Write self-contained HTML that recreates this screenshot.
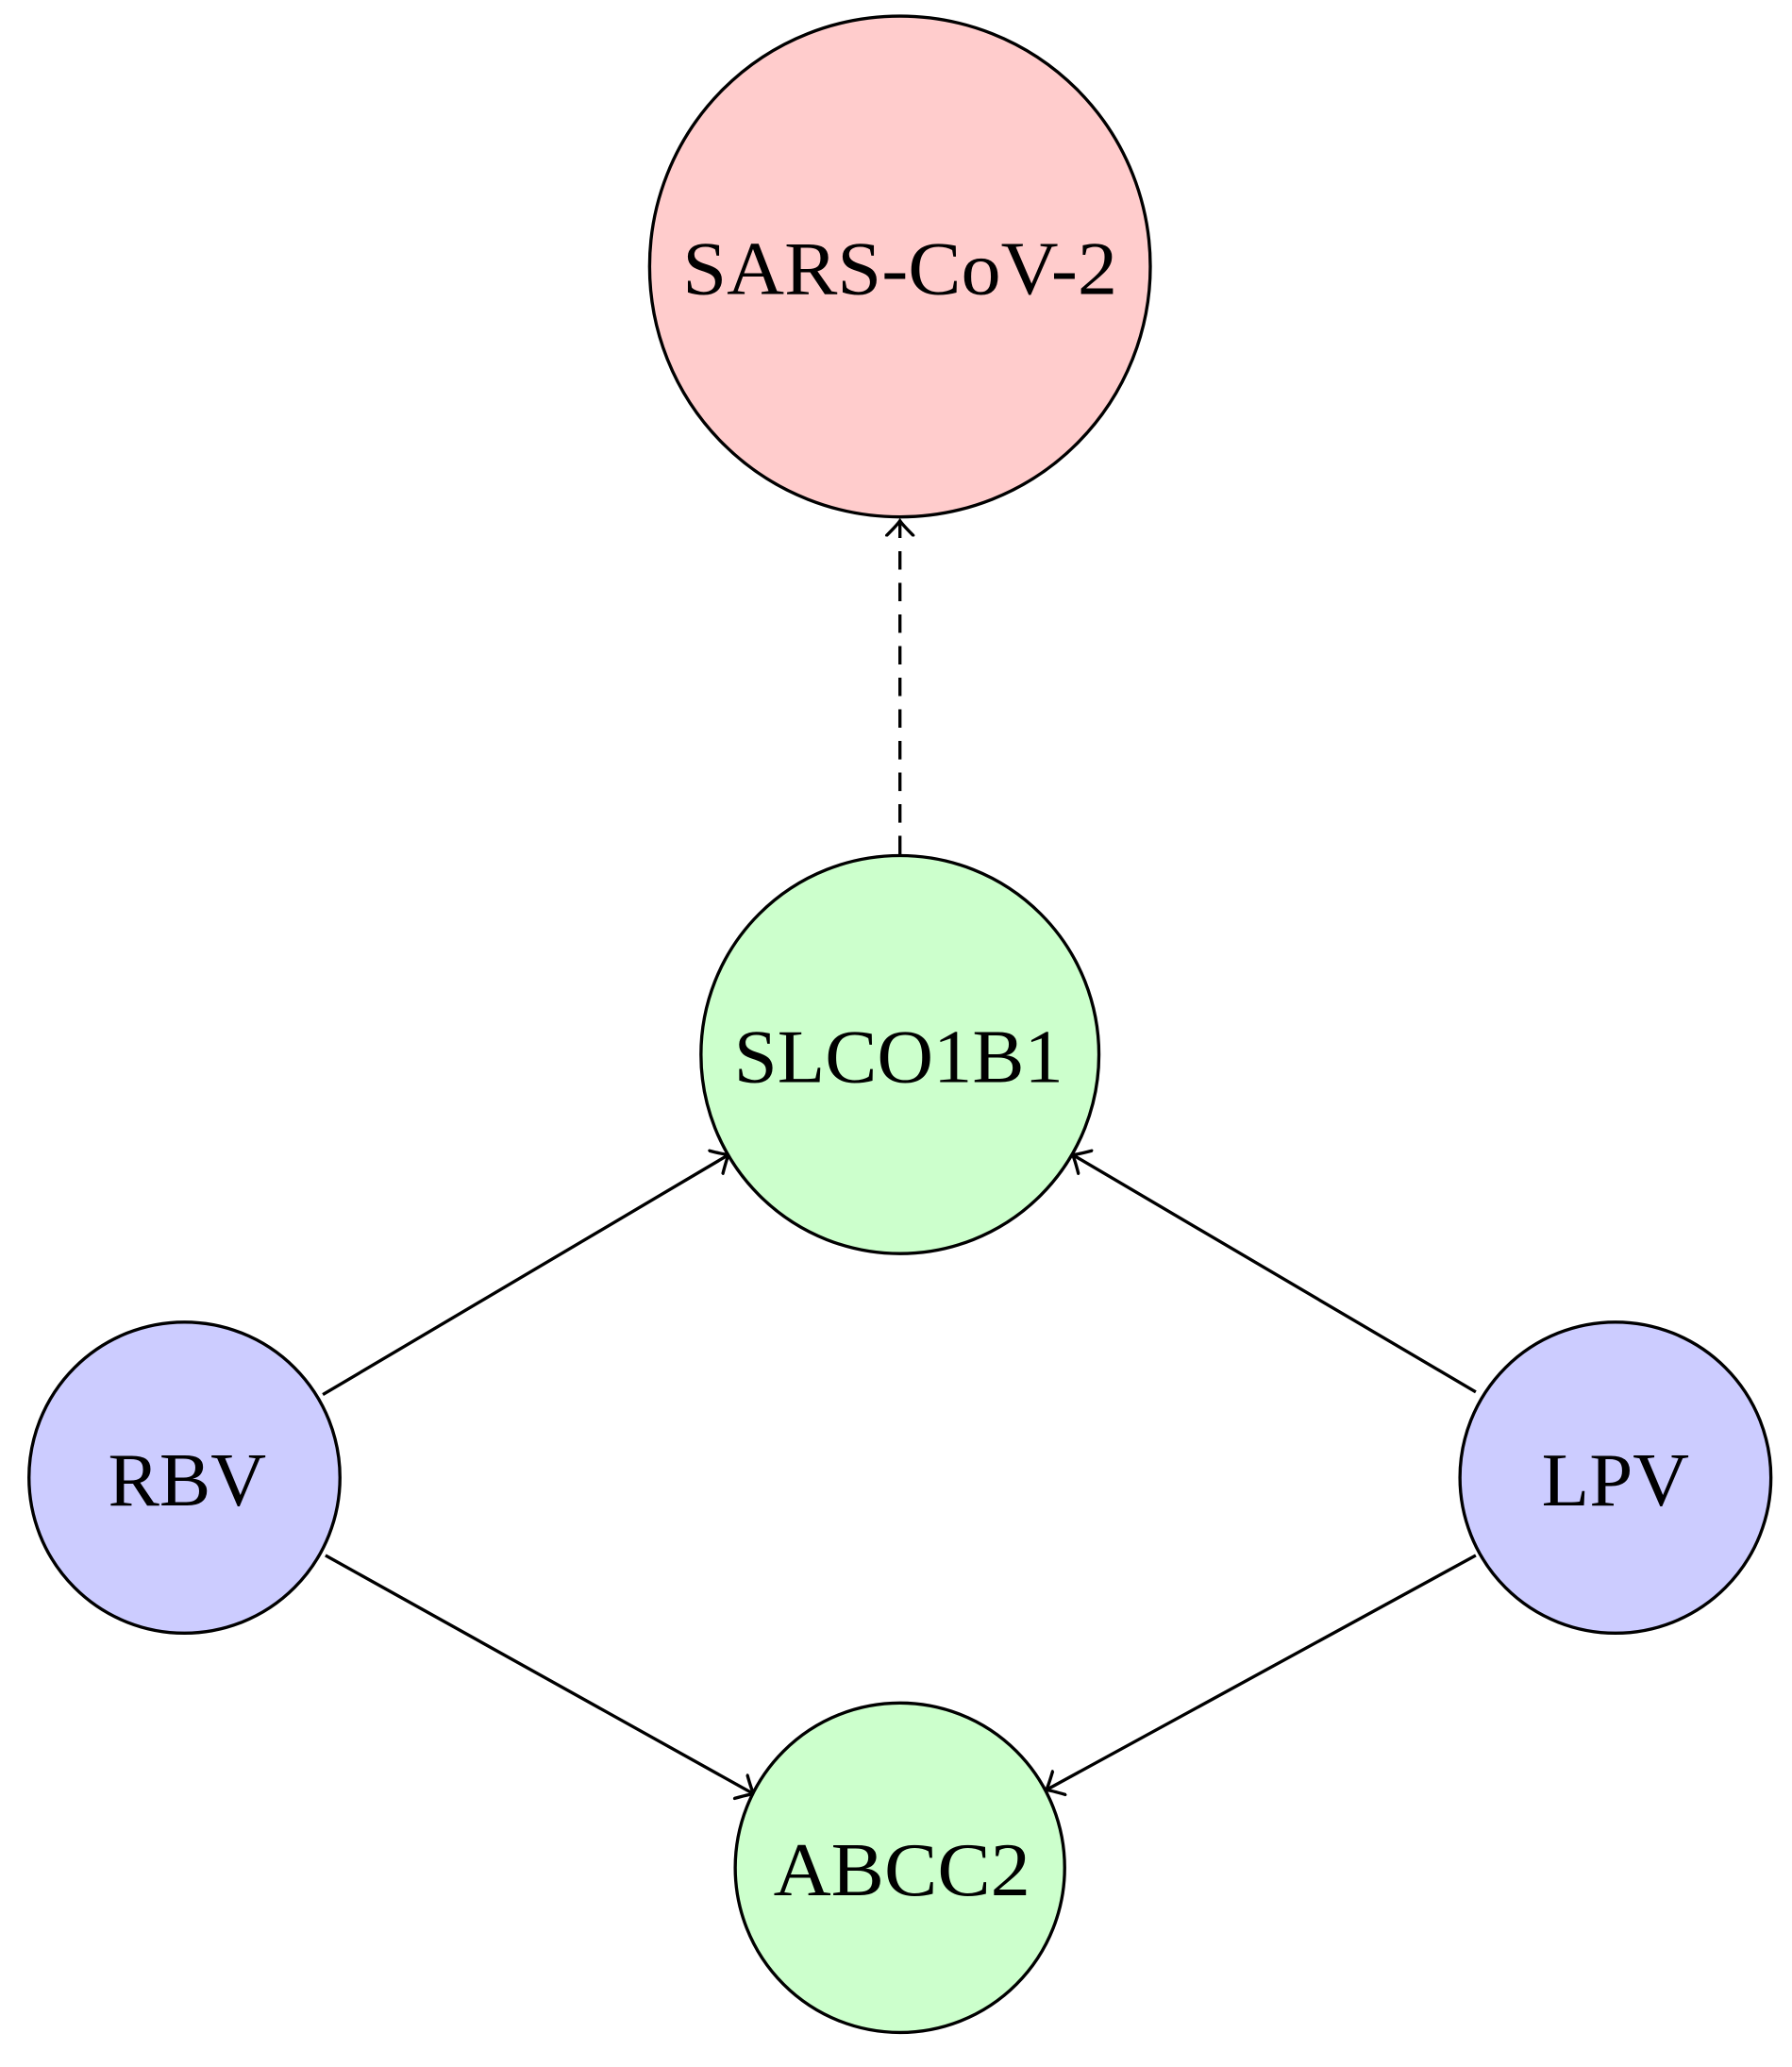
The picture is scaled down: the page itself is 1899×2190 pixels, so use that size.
<!DOCTYPE html>
<html><head><meta charset="utf-8"><style>html,body{margin:0;padding:0;background:#fff}svg{display:block}</style></head>
<body>
<svg width="1899" height="2190" viewBox="0 0 1360 1568" xmlns="http://www.w3.org/2000/svg">
<defs>
<marker id="a" viewBox="-12 -12 24 24" markerWidth="24" markerHeight="24" refX="0" refY="0" orient="auto" markerUnits="userSpaceOnUse">
<path d="M-11,-10 Q-3,-2 0,0 Q-3,2 -11,10" fill="none" stroke="#000" stroke-width="2.4" stroke-linecap="round"/>
</marker>
</defs>
<g stroke="#000" stroke-width="2.4" fill="none">
<line x1="683" y1="648" x2="683" y2="395" stroke-dasharray="14,10" marker-end="url(#a)"/>
<line x1="245" y1="1058" x2="553" y2="876" marker-end="url(#a)"/>
<line x1="247" y1="1180" x2="572" y2="1361" marker-end="url(#a)"/>
<line x1="1120" y1="1056" x2="814" y2="876" marker-end="url(#a)"/>
<line x1="1120" y1="1180" x2="794" y2="1358" marker-end="url(#a)"/>
</g>
<g stroke="#000" stroke-width="2.4">
<circle cx="683" cy="202" r="190" fill="#ffcccc"/>
<circle cx="683" cy="800" r="151" fill="#ccffcc"/>
<circle cx="140" cy="1121" r="118" fill="#ccccff"/>
<circle cx="1226" cy="1121" r="118" fill="#ccccff"/>
<circle cx="683" cy="1417" r="125" fill="#ccffcc"/>
</g>
<g font-family="'Liberation Serif', serif" font-size="58" fill="#000">
<text x="518" y="223" textLength="330" lengthAdjust="spacingAndGlyphs">SARS-CoV-2</text>
<text x="557" y="821" textLength="250" lengthAdjust="spacingAndGlyphs">SLCO1B1</text>
<text x="82" y="1142" textLength="120" lengthAdjust="spacingAndGlyphs">RBV</text>
<text x="1170" y="1142" textLength="112" lengthAdjust="spacingAndGlyphs">LPV</text>
<text x="587" y="1438" textLength="195" lengthAdjust="spacingAndGlyphs">ABCC2</text>
</g>
</svg>
</body></html>
